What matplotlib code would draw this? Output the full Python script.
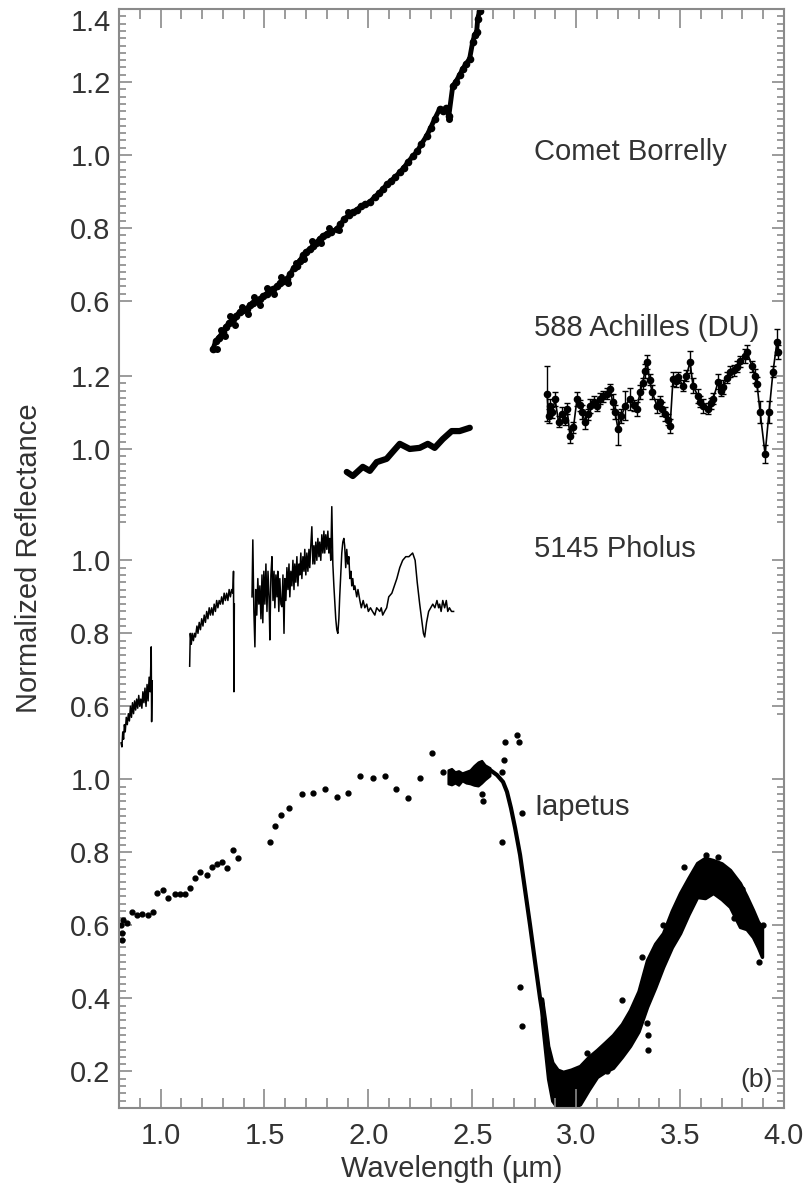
import numpy as np
import matplotlib.pyplot as plt

plt.rcParams['font.family'] = ['Liberation Sans', 'DejaVu Sans']

# vertical offsets used to stack the spectra
OFF_BORRELLY = 1.71
OFF_ACHILLES = 0.905
OFF_PHOLUS = 0.60
OFF_IAPETUS = 0.0

#### Comet Borrelly ####
borrelly_x = [1.252, 1.265, 1.280, 1.300, 1.315, 1.330, 1.348, 1.365, 1.380, 1.398,
              1.415, 1.430, 1.445, 1.460, 1.478, 1.495, 1.510, 1.525, 1.540, 1.560,
              1.575, 1.590, 1.608, 1.625, 1.640, 1.656, 1.670, 1.685, 1.700, 1.718,
              1.735, 1.750, 1.765, 1.780, 1.800, 1.820, 1.848, 1.865, 1.885, 1.905,
              1.925, 1.945, 1.965, 1.985, 2.007, 2.030, 2.050, 2.070, 2.090, 2.110,
              2.130, 2.151, 2.170, 2.190, 2.214, 2.235, 2.255, 2.280, 2.300, 2.320,
              2.343, 2.360, 2.375, 2.387, 2.406, 2.420, 2.440, 2.454, 2.470, 2.487,
              2.502, 2.512, 2.521, 2.526, 2.535, 2.540]
borrelly_y = [0.468, 0.490, 0.500, 0.515, 0.530, 0.540, 0.551, 0.560, 0.570, 0.575,
              0.578, 0.590, 0.595, 0.600, 0.605, 0.615, 0.620, 0.630, 0.633, 0.640,
              0.650, 0.655, 0.660, 0.675, 0.690, 0.696, 0.710, 0.725, 0.735, 0.742,
              0.750, 0.760, 0.770, 0.778, 0.785, 0.790, 0.797, 0.810, 0.825, 0.835,
              0.844, 0.850, 0.860, 0.865, 0.871, 0.885, 0.895, 0.907, 0.920, 0.930,
              0.940, 0.953, 0.965, 0.980, 0.997, 1.010, 1.030, 1.052, 1.075, 1.100,
              1.126, 1.120, 1.128, 1.107, 1.189, 1.200, 1.220, 1.236, 1.250, 1.263,
              1.310, 1.330, 1.337, 1.373, 1.395, 1.410]
# scattered points around the lower part of the Borrelly curve
borrelly_sx = [1.270, 1.290, 1.310, 1.335, 1.360, 1.390, 1.420, 1.450, 1.480, 1.510,
               1.545, 1.580, 1.615, 1.650, 1.690, 1.730, 1.770, 1.810, 1.860, 1.900,
               2.390]
borrelly_sy = [0.470, 0.520, 0.505, 0.560, 0.535, 0.585, 0.565, 0.610, 0.590, 0.635,
               0.620, 0.665, 0.650, 0.705, 0.715, 0.765, 0.760, 0.800, 0.795, 0.845,
               1.100]

#### 588 Achilles ####
achilles_x1 = [1.896, 1.925, 1.973, 2.007, 2.040, 2.088, 2.117, 2.151, 2.199, 2.247,
               2.286, 2.319, 2.358, 2.401, 2.439, 2.488]
achilles_y1 = [0.937, 0.926, 0.951, 0.940, 0.964, 0.973, 0.992, 1.014, 1.000, 1.003,
               1.014, 1.003, 1.027, 1.049, 1.049, 1.058]

achilles_x2 = [2.860, 2.867, 2.874, 2.886, 2.898, 2.915, 2.932, 2.944, 2.956, 2.970,
               2.987, 3.004, 3.016, 3.028, 3.043, 3.055, 3.067, 3.084, 3.100, 3.115,
               3.131, 3.148, 3.163, 3.175, 3.187, 3.201, 3.218, 3.235, 3.259, 3.276,
               3.293, 3.307, 3.320, 3.331, 3.341, 3.353, 3.365, 3.389, 3.401, 3.413,
               3.427, 3.440, 3.452, 3.466, 3.478, 3.490, 3.514, 3.530, 3.548, 3.562,
               3.586, 3.598, 3.610, 3.634, 3.647, 3.659, 3.683, 3.695, 3.707, 3.724,
               3.740, 3.757, 3.774, 3.790, 3.810, 3.822, 3.846, 3.861, 3.870, 3.885,
               3.909, 3.928, 3.947, 3.966, 3.971]
achilles_y2 = [1.151, 1.090, 1.118, 1.100, 1.137, 1.075, 1.096, 1.080, 1.110, 1.036,
               1.060, 1.137, 1.120, 1.101, 1.074, 1.095, 1.118, 1.130, 1.118, 1.137,
               1.145, 1.151, 1.164, 1.130, 1.101, 1.055, 1.090, 1.118, 1.137, 1.120,
               1.110, 1.156, 1.180, 1.214, 1.238, 1.190, 1.156, 1.118, 1.130, 1.110,
               1.096, 1.080, 1.063, 1.192, 1.185, 1.197, 1.173, 1.200, 1.238, 1.173,
               1.145, 1.130, 1.118, 1.110, 1.125, 1.137, 1.184, 1.160, 1.170, 1.195,
               1.211, 1.215, 1.225, 1.240, 1.255, 1.266, 1.227, 1.200, 1.178, 1.101,
               0.986, 1.101, 1.211, 1.293, 1.266]
achilles_err2 = [0.075, 0.020, 0.020, 0.015, 0.020, 0.015, 0.020, 0.015, 0.015, 0.020,
                 0.015, 0.020, 0.015, 0.020, 0.020, 0.015, 0.020, 0.015, 0.015, 0.015,
                 0.015, 0.015, 0.015, 0.020, 0.020, 0.045, 0.020, 0.040, 0.030, 0.015,
                 0.020, 0.020, 0.015, 0.020, 0.020, 0.015, 0.020, 0.020, 0.015, 0.020,
                 0.020, 0.015, 0.020, 0.020, 0.015, 0.015, 0.015, 0.015, 0.030, 0.020,
                 0.020, 0.015, 0.020, 0.015, 0.015, 0.015, 0.020, 0.015, 0.020, 0.015,
                 0.015, 0.015, 0.015, 0.015, 0.020, 0.020, 0.015, 0.020, 0.020, 0.030,
                 0.025, 0.030, 0.015, 0.035, 0.020]

#### 5145 Pholus (three detector segments) ####
pholus_x1 = [0.810, 0.814, 0.818, 0.822, 0.826, 0.830, 0.835, 0.840, 0.845, 0.850,
             0.855, 0.860, 0.865, 0.870, 0.875, 0.880, 0.885, 0.890, 0.895, 0.900,
             0.905, 0.910, 0.915, 0.920, 0.925, 0.930, 0.935, 0.940, 0.945, 0.950,
             0.955, 0.957, 0.960]
pholus_y1 = [0.500, 0.489, 0.530, 0.510, 0.550, 0.530, 0.570, 0.550, 0.580, 0.560,
             0.600, 0.570, 0.610, 0.580, 0.615, 0.590, 0.620, 0.595, 0.630, 0.600,
             0.620, 0.595, 0.640, 0.610, 0.650, 0.600, 0.660, 0.615, 0.680, 0.640,
             0.763, 0.558, 0.670]

pholus_x2 = [1.140, 1.143, 1.148, 1.152, 1.158, 1.163, 1.168, 1.175, 1.180, 1.186,
             1.192, 1.198, 1.204, 1.210, 1.216, 1.222, 1.228, 1.234, 1.240, 1.246,
             1.252, 1.258, 1.264, 1.270, 1.276, 1.282, 1.288, 1.294, 1.300, 1.306,
             1.312, 1.318, 1.324, 1.330, 1.336, 1.342, 1.348, 1.351, 1.353, 1.355]
pholus_y2 = [0.710, 0.800, 0.770, 0.800, 0.780, 0.800, 0.790, 0.820, 0.800, 0.830,
             0.810, 0.840, 0.820, 0.850, 0.830, 0.860, 0.840, 0.870, 0.850, 0.870,
             0.850, 0.880, 0.860, 0.890, 0.870, 0.890, 0.880, 0.900, 0.880, 0.910,
             0.890, 0.910, 0.890, 0.920, 0.900, 0.920, 0.910, 0.970, 0.640, 0.880]

pholus_x3 = [1.440, 1.444, 1.449, 1.454, 1.458, 1.463, 1.468, 1.473, 1.478, 1.483,
             1.488, 1.492, 1.497, 1.502, 1.507, 1.512, 1.517, 1.522, 1.526, 1.531,
             1.536, 1.541, 1.546, 1.550, 1.555, 1.560, 1.564, 1.569, 1.574, 1.579,
             1.584, 1.589, 1.594, 1.598, 1.603, 1.608, 1.613, 1.618, 1.622, 1.627,
             1.632, 1.637, 1.642, 1.646, 1.651, 1.656, 1.661, 1.666, 1.670, 1.675,
             1.680, 1.685, 1.690, 1.694, 1.699, 1.704, 1.709, 1.714, 1.718, 1.723,
             1.728, 1.733, 1.738, 1.742, 1.747, 1.752, 1.757, 1.762, 1.766, 1.771,
             1.776, 1.781, 1.786, 1.790, 1.795, 1.800, 1.805, 1.810, 1.814, 1.819,
             1.824, 1.829, 1.834, 1.838, 1.843, 1.848, 1.853, 1.858, 1.862, 1.867,
             1.872, 1.877, 1.882, 1.886, 1.891, 1.896, 1.901, 1.906, 1.911, 1.916,
             1.920, 1.925, 1.930, 1.935, 1.944, 1.950, 1.959, 1.966, 1.975, 1.983,
             1.992, 2.000, 2.010, 2.020, 2.031, 2.040, 2.055, 2.062, 2.069, 2.078,
             2.088, 2.098, 2.113, 2.125, 2.137, 2.151, 2.165, 2.180, 2.195, 2.213,
             2.225, 2.235, 2.247, 2.258, 2.265, 2.271, 2.280, 2.290, 2.300, 2.310,
             2.320, 2.330, 2.338, 2.343, 2.350, 2.358, 2.367, 2.375, 2.382, 2.390,
             2.400, 2.410]
pholus_y3 = [0.900, 1.056, 0.860, 0.763, 0.920, 0.850, 0.950, 0.880, 0.930, 0.840,
             0.960, 0.829, 0.970, 0.880, 0.990, 0.860, 0.970, 0.900, 0.782, 0.960,
             1.010, 0.890, 0.970, 0.870, 0.960, 0.900, 0.970, 0.860, 0.950, 0.880,
             0.873, 0.960, 0.800, 0.950, 0.890, 0.980, 0.920, 0.990, 0.900, 0.970,
             0.930, 1.000, 0.920, 0.990, 0.940, 1.010, 0.930, 0.990, 0.960, 1.020,
             0.950, 1.010, 0.970, 1.030, 0.960, 1.020, 0.970, 1.030, 0.980, 1.040,
             1.092, 0.990, 1.040, 0.990, 1.050, 1.000, 1.060, 1.010, 1.050, 1.000,
             1.070, 1.020, 1.080, 1.020, 1.070, 1.030, 1.080, 1.020, 1.060, 1.000,
             1.147, 0.990, 0.930, 0.890, 0.840, 0.810, 0.800, 0.840, 0.900, 0.960,
             1.020, 1.050, 1.060, 1.040, 0.980, 1.030, 0.990, 1.010, 0.950, 0.970,
             0.930, 0.950, 0.920, 0.930, 0.900, 0.920, 0.890, 0.870, 0.890, 0.870,
             0.880, 0.860, 0.870, 0.860, 0.850, 0.870, 0.860, 0.870, 0.850, 0.860,
             0.870, 0.900, 0.910, 0.930, 0.950, 0.980, 1.000, 1.010, 1.010, 1.020,
             1.000, 0.940, 0.880, 0.830, 0.800, 0.790, 0.830, 0.860, 0.870, 0.880,
             0.870, 0.890, 0.870, 0.880, 0.860, 0.890, 0.870, 0.890, 0.860, 0.870,
             0.860, 0.860]

#### Iapetus ####
# sparse ground-based points
iap_dots_x = [0.810, 0.815, 0.815, 0.819, 0.838, 0.863, 0.887, 0.911, 0.940, 0.964,
              0.983, 1.012, 1.036, 1.069, 1.094, 1.118, 1.142, 1.166, 1.190, 1.223,
              1.248, 1.272, 1.296, 1.320, 1.349, 1.373, 1.527, 1.551, 1.580, 1.618,
              1.681, 1.734, 1.791, 1.849, 1.902, 1.960, 2.022, 2.080, 2.133, 2.191,
              2.249, 2.306, 2.359]
iap_dots_y = [0.600, 0.580, 0.560, 0.615, 0.607, 0.637, 0.629, 0.632, 0.629, 0.637,
              0.689, 0.697, 0.675, 0.686, 0.686, 0.686, 0.703, 0.730, 0.747, 0.738,
              0.760, 0.768, 0.774, 0.758, 0.807, 0.785, 0.829, 0.873, 0.903, 0.922,
              0.960, 0.963, 0.974, 0.952, 0.963, 1.010, 1.004, 1.010, 0.974, 0.949,
              1.004, 1.073, 1.021]

# dense plateau before the band
iap_plat_x = [2.383, 2.400, 2.417, 2.434, 2.451, 2.470, 2.489, 2.508, 2.528, 2.545, 2.561, 2.585]
iap_plat_lo = [0.988, 0.985, 0.990, 0.984, 0.996, 0.990, 0.988, 0.984, 0.982, 0.990, 0.999, 1.010]
iap_plat_hi = [1.026, 1.030, 1.021, 1.024, 1.018, 1.022, 1.026, 1.038, 1.048, 1.052, 1.040, 1.032]

# model curve through the 3 um band edge
iap_edge_x = [2.547, 2.585, 2.619, 2.648, 2.667, 2.686, 2.706, 2.730, 2.754, 2.778,
              2.802, 2.826, 2.850, 2.874, 2.898]
iap_edge_y = [1.032, 1.026, 1.012, 0.993, 0.966, 0.922, 0.867, 0.793, 0.697, 0.601,
              0.500, 0.401, 0.314, 0.232, 0.177]

# spread of the spacecraft data in the band
iap_band_x = [2.835, 2.850, 2.865, 2.885, 2.910, 2.937, 2.975, 3.018, 3.060, 3.100,
              3.140, 3.177, 3.220, 3.259, 3.300, 3.341, 3.380, 3.418, 3.460, 3.500,
              3.540, 3.582, 3.620, 3.659, 3.700, 3.740, 3.788, 3.820, 3.851, 3.875,
              3.894]
iap_band_lo = [0.340, 0.260, 0.180, 0.120, 0.100, 0.100, 0.100, 0.110, 0.150, 0.185,
               0.200, 0.210, 0.240, 0.270, 0.310, 0.377, 0.430, 0.486, 0.540, 0.579,
               0.630, 0.678, 0.675, 0.689, 0.672, 0.651, 0.596, 0.590, 0.568, 0.540,
               0.514]
iap_band_hi = [0.400, 0.340, 0.270, 0.225, 0.205, 0.199, 0.205, 0.215, 0.240, 0.259,
               0.280, 0.300, 0.330, 0.368, 0.420, 0.505, 0.550, 0.579, 0.640, 0.689,
               0.730, 0.771, 0.785, 0.779, 0.770, 0.752, 0.716, 0.680, 0.642, 0.610,
               0.596]

# stray points
iap_out_x = [2.552, 2.547, 2.643, 2.653, 2.658, 2.715, 2.725, 2.643, 2.739, 2.730,
             2.739, 3.317, 3.221, 3.341, 3.346, 3.346, 3.625, 3.683, 3.900, 3.880,
             2.860, 2.880, 3.050, 3.150, 3.420, 3.520, 3.760, 3.800]
iap_out_y = [0.941, 0.960, 1.021, 1.053, 1.103, 1.122, 1.103, 0.829, 0.908, 0.432,
             0.325, 0.514, 0.396, 0.333, 0.300, 0.259, 0.793, 0.788, 0.600, 0.500,
             0.260, 0.190, 0.250, 0.200, 0.600, 0.760, 0.620, 0.700]

labels = ["Comet Borrelly", "588 Achilles (DU)", "5145 Pholus", "Iapetus"]


fig = plt.figure(figsize=(8.1, 11.9), dpi=100)
ax = fig.add_axes([119 / 810, 1 - 1108 / 1190, 665 / 810, 1099 / 1190])

k = 'black'
# Borrelly
ax.plot(borrelly_x, np.array(borrelly_y) + OFF_BORRELLY, '-', color=k, lw=3.5)
ax.plot(borrelly_x, np.array(borrelly_y) + OFF_BORRELLY, 'o', color=k, ms=4.5)
ax.plot(borrelly_sx, np.array(borrelly_sy) + OFF_BORRELLY, 'o', color=k, ms=4)

# Achilles
ax.plot(achilles_x1, np.array(achilles_y1) + OFF_ACHILLES, '-', color=k, lw=4.5,
        solid_capstyle='round')
ax.errorbar(achilles_x2, np.array(achilles_y2) + OFF_ACHILLES, yerr=achilles_err2,
            fmt='o-', color=k, ms=4.5, lw=1.2, elinewidth=1.0, capsize=2)

# Pholus
for px, py in [(pholus_x1, pholus_y1), (pholus_x2, pholus_y2), (pholus_x3, pholus_y3)]:
    ax.plot(px, np.array(py) + OFF_PHOLUS, '-', color=k, lw=1.1)

# Iapetus
ax.plot(iap_dots_x, np.array(iap_dots_y) + OFF_IAPETUS, 'o', color=k, ms=3.5)
ax.fill_between(iap_plat_x, np.array(iap_plat_lo) + OFF_IAPETUS,
                np.array(iap_plat_hi) + OFF_IAPETUS, color=k, lw=1.5)
ax.plot(iap_edge_x, np.array(iap_edge_y) + OFF_IAPETUS, '-', color=k, lw=3.0)
ax.fill_between(iap_band_x, np.array(iap_band_lo) + OFF_IAPETUS,
                np.array(iap_band_hi) + OFF_IAPETUS, color=k, lw=2.5)
ax.plot(iap_out_x, np.array(iap_out_y) + OFF_IAPETUS, 'o', color=k, ms=3.5)

# labels in the plot
txt = '#333333'
fs = 21
ax.text(2.797, 2.719, labels[0], fontsize=fs, color=txt, va='center')
ax.text(2.797, 2.237, labels[1], fontsize=fs, color=txt, va='center')
ax.text(2.797, 1.632, labels[2], fontsize=fs, color=txt, va='center')
ax.text(2.797, 0.925, labels[3], fontsize=fs, color=txt, va='center')
ax.text(3.790, 0.177, "(b)", fontsize=fs - 2, color=txt, va='center')

ax.set_xlim(0.8, 4.0)
ax.set_ylim(0.1, 3.11)

# x ticks
ax.set_xticks(np.arange(1.0, 4.01, 0.5))
ax.set_xticklabels(["%.1f" % v for v in np.arange(1.0, 4.01, 0.5)])
ax.set_xticks(np.arange(0.9, 4.0, 0.1), minor=True)

# stacked y ticks
groups = [(OFF_BORRELLY, [0.6, 0.8, 1.0, 1.2, 1.4], 0.6, 1.4),
          (OFF_ACHILLES, [1.0, 1.2], 0.8, 1.2),
          (OFF_PHOLUS, [0.6, 0.8, 1.0], 0.58, 1.0),
          (OFF_IAPETUS, [0.2, 0.4, 0.6, 0.8, 1.0], 0.1, 1.0)]
ypos, ylab, ymin = [], [], []
for off, major, lo, hi in groups:
    for v in major:
        ypos.append(v + off)
        ylab.append("%.1f" % v)
    ymin.extend(list(np.arange(lo, hi + 1e-6, 0.02) + off))
ax.set_yticks(ypos)
ax.set_yticklabels(ylab)
ax.set_yticks(ymin, minor=True)

gray = '#8a8a8a'
for s in ax.spines.values():
    s.set_color(gray)
    s.set_linewidth(1.5)
ax.tick_params(which='both', direction='in', top=True, right=True, color=gray,
               width=1.2, labelcolor=txt, labelsize=fs)
ax.tick_params(axis='x', which='major', length=14, pad=10)
ax.tick_params(axis='x', which='minor', length=7)
ax.tick_params(axis='y', which='major', length=9, pad=6)
ax.tick_params(axis='y', which='minor', length=5)

# top label of the upper spectrum sits below the frame edge
for lab in ax.get_yticklabels():
    if lab.get_position()[1] > 3.0:
        lab.set_va('top')

ax.set_xlabel("Wavelength (\u00b5m)", fontsize=fs, color=txt)
ax.set_ylabel("Normalized Reflectance", fontsize=fs, color=txt)
ax.xaxis.set_label_coords(0.5, -0.043)
ax.xaxis.label.set_va('top')
ax.yaxis.set_label_coords(-0.114, 0.5)

fig.savefig("out.png", dpi=100)
